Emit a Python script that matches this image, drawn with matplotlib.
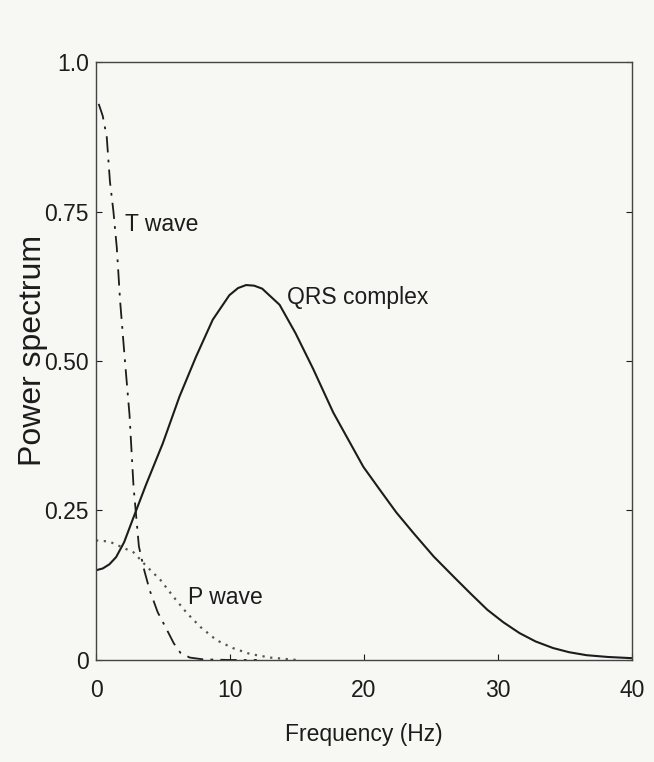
import matplotlib
matplotlib.use("Agg")
from matplotlib import pyplot as plt

# 周波数 (Hz) と パワースペクトル
qrs_freq = [0, 0.5, 1.0, 1.5, 2.1, 2.74, 3.73, 4.98, 6.22, 7.46, 8.71, 9.95, 10.6, 11.2,
            11.8, 12.4, 13.7, 14.9, 16.2, 17.7, 19.95, 21.2, 22.4, 23.7, 25.2, 26.7,
            28.0, 29.2, 30.4, 31.6, 32.8, 34.1, 35.3, 36.6, 38.2, 40]
qrs_power = [0.150, 0.153, 0.160, 0.172, 0.197, 0.235, 0.293, 0.362, 0.440, 0.507, 0.569,
             0.610, 0.622, 0.627, 0.626, 0.621, 0.594, 0.546, 0.487, 0.414, 0.323,
             0.284, 0.247, 0.212, 0.173, 0.139, 0.110, 0.084, 0.063, 0.045, 0.031,
             0.020, 0.013, 0.008, 0.005, 0.003]

t_freq = [0.2, 0.5, 0.8, 1.04, 1.3, 1.55, 1.8, 2.16, 2.5, 2.8, 3.2, 3.6, 4.0, 4.6,
          5.3, 5.8, 6.3, 7, 8, 10, 12]
t_power = [0.93, 0.91, 0.875, 0.80, 0.75, 0.69, 0.60, 0.50, 0.41, 0.29, 0.19, 0.15,
           0.117, 0.08, 0.05, 0.028, 0.012, 0.004, 0.001, 0.0, 0.0]

p_freq = [0, 1, 1.8, 2.8, 3.8, 4.8, 5.8, 6.8, 7.8, 9.0, 10.2, 11.5, 13, 15]
p_power = [0.20, 0.198, 0.19, 0.18, 0.156, 0.134, 0.105, 0.078, 0.055, 0.033, 0.02,
           0.01, 0.004, 0.0]

x_ticks = [0, 10, 20, 30, 40]
y_ticks = [0, 0.25, 0.5, 0.75, 1.0]
y_tick_labels = ["0", "0.25", "0.50", "0.75", "1.0"]

font = "Liberation Sans"
fs = 16.5
bg = "#f7f7f4"
ink = "#1c1c1c"

fig = plt.figure(figsize=(6.54, 7.62), dpi=100, facecolor=bg)
ax = fig.add_axes([0.1468, 0.1339, 0.8196, 0.7847], facecolor=bg)

ax.plot(qrs_freq, qrs_power, color=ink, lw=1.5)
ax.plot(t_freq, t_power, color=ink, lw=1.3, dashes=(9, 4, 1.5, 4))
ax.plot(p_freq, p_power, color="#555555", lw=1.6, dashes=(1, 2.5))

ax.text(2.16, 0.729, "T wave", family=font, fontsize=fs, color=ink, va="center")
ax.text(14.25, 0.607, "QRS complex", family=font, fontsize=fs, color=ink, va="center")
ax.text(6.87, 0.105, "P wave", family=font, fontsize=fs, color=ink, va="center")

ax.set_xlim(0, 40)
ax.set_ylim(0, 1.0)
ax.set_xticks(x_ticks)
ax.set_yticks(y_ticks)
ax.set_yticklabels(y_tick_labels)
ax.tick_params(direction="in", length=4, width=0.8, colors=ink,
               right=True, top=False, labelsize=fs, pad=5)
for lab in ax.get_xticklabels() + ax.get_yticklabels():
    lab.set_family(font)
ax.tick_params(axis="x", pad=14)

for s in ax.spines.values():
    s.set_color("#444444")
    s.set_linewidth(1.0)

ax.set_xlabel("Frequency (Hz)", family=font, fontsize=fs, color=ink)
ax.xaxis.set_label_coords(0.5, -0.105)
ax.set_ylabel("Power spectrum", family=font, fontsize=23, color=ink)
ax.yaxis.set_label_coords(-0.0896, 0.518)

fig.savefig("out.png", dpi=100, facecolor=bg)
